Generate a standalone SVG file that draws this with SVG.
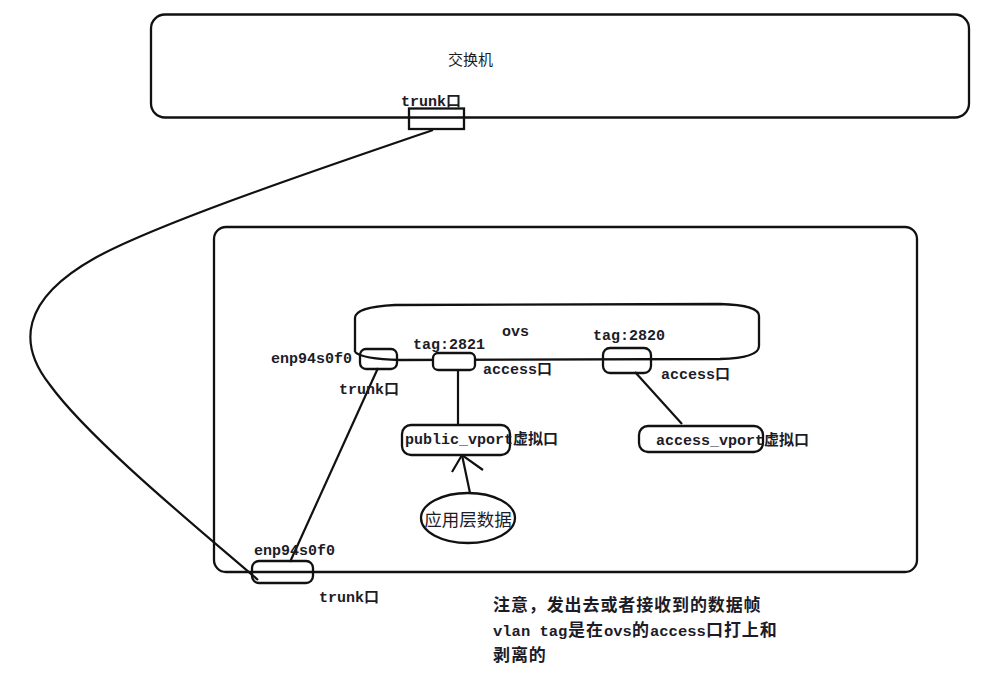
<svg xmlns="http://www.w3.org/2000/svg" width="999" height="673" viewBox="0 0 999 673">
<style>
.box{fill:none;stroke:#111;stroke-width:2.3}
.port{fill:#fff;stroke:#111;stroke-width:2.3}
.ln{fill:none;stroke:#111;stroke-width:2.2}
.t{font-family:"Liberation Mono","Noto Sans CJK SC",monospace;font-size:15px;fill:#1c1c28;font-weight:bold}
.cn{font-family:"Noto Sans CJK SC",sans-serif;fill:#1c1c28}
.note{font-family:"Noto Sans CJK SC",sans-serif;font-size:17px;font-weight:bold;fill:#1c1c28;letter-spacing:0.9px}
.nl{font-family:"Liberation Mono",monospace;font-size:15.5px;font-weight:bold;fill:#1c1c28}
</style>
<rect width="999" height="673" fill="#fff"/>
<g id="switch">
<rect class="box" x="151" y="14.5" width="818" height="103" rx="14"/>
<text class="cn" x="448" y="65" font-size="15">交换机</text>
</g>
<g id="server">
<rect class="box" x="214" y="227" width="703" height="345" rx="12"/>
</g>
<g id="ovs">
<path class="box" d="M355,352 L355,318 Q355,307 395,305 L720,304 Q759,305 759,316 L759,346 Q759,358 720,359 L400,360 Q362,359 355,352"/>
<text class="t" x="502" y="336">ovs</text>
</g>
<g id="connectors">
<path class="ln" d="M433,130 C340,162 160,222 95,258 C20,300 18,345 50,385 C90,440 200,530 258,580"/>
<line class="ln" x1="290" y1="562" x2="378" y2="368"/>
<line class="ln" x1="458" y1="370" x2="458" y2="425"/>
<line class="ln" x1="635" y1="372" x2="682" y2="424"/>
<line class="ln" x1="470" y1="493" x2="462" y2="455"/>
<polyline class="ln" points="452,472 462,455 483,470"/>
</g>
<g id="switch-trunk">
<rect x="409" y="108.5" width="55" height="20.5" fill="none" stroke="#111" stroke-width="2.3"/>
<text class="t" x="401" y="106">trunk口</text>
</g>
<g id="enp-ovs">
<rect class="box" x="360" y="349" width="37" height="20" rx="6"/>
<text class="t" x="271" y="363">enp94s0f0</text>
<text class="t" x="339" y="394">trunk口</text>
</g>
<g id="tag2821">
<rect class="port" x="433" y="353" width="42" height="17" rx="5"/>
<text class="t" x="413" y="349">tag:2821</text>
<text class="t" x="483" y="374">access口</text>
</g>
<g id="tag2820">
<rect class="box" x="603" y="348" width="48" height="25" rx="7"/>
<text class="t" x="593" y="340">tag:2820</text>
<text class="t" x="661" y="379">access口</text>
</g>
<g id="public_vport">
<rect class="port" x="402" y="425" width="108" height="30" rx="9"/>
<text class="t" x="405" y="444">public_vport虚拟口</text>
</g>
<g id="access_vport">
<rect class="port" x="639" y="426" width="124" height="26" rx="9"/>
<text class="t" x="656" y="445">access_vport虚拟口</text>
</g>
<g id="app-data">
<ellipse class="port" cx="468" cy="518" rx="47" ry="25"/>
<text class="cn" x="468" y="526" font-size="17.5" text-anchor="middle">应用层数据</text>
</g>
<g id="enp-host">
<rect class="box" x="252" y="561" width="61" height="22" rx="7"/>
<text class="t" x="254" y="555">enp94s0f0</text>
<text class="t" x="319" y="602">trunk口</text>
</g>
<g id="note">
<text class="note" x="493" y="611">注意，发出去或者接收到的数据帧</text>
<text class="nl" x="493" y="636">vlan tag</text>
<text class="note" x="568" y="636">是在</text>
<text class="nl" x="604" y="636">ovs</text>
<text class="note" x="632" y="636">的</text>
<text class="nl" x="650" y="636">access</text>
<text class="note" x="706" y="636">口打上和</text>
<text class="note" x="493" y="661">剥离的</text>
</g>
</svg>
